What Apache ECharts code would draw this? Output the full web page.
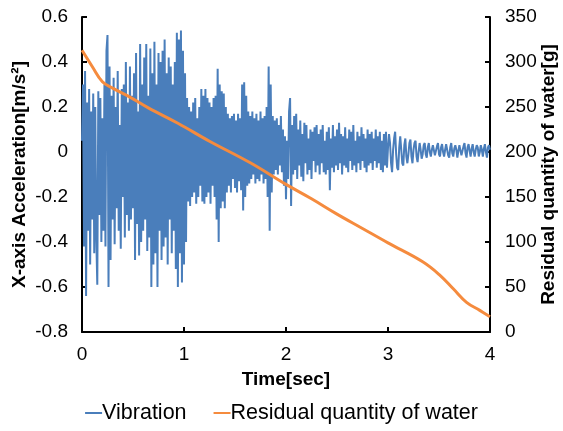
<!DOCTYPE html>
<html>
<head>
<meta charset="utf-8">
<script src="https://cdn.jsdelivr.net/npm/echarts@6/dist/echarts.min.js"></script>
<style>
html,body{margin:0;padding:0;background:#fff;}
#chart{width:563px;height:431px;}
</style>
</head>
<body>
<div id="chart"></div>
<script>
const vibrationStep = 0.01;
const vibrationValues = [
 0.05, 0.30, -0.42, 0.36, -0.64, 0.22, -0.35, 0.28, -0.50, 0.18,
 -0.30, 0.26, -0.45, 0.20, -0.38, -0.59, 0.27, -0.28, 0.24, -0.40,
 0.15, -0.35, 0.30, -0.42, 0.45, 0.52, -0.60, 0.38, -0.48, 0.25,
 -0.30, 0.33, -0.41, 0.20, -0.25, 0.36, -0.35, 0.12, -0.43, 0.28,
 -0.20, 0.30, -0.38, 0.40, -0.28, 0.22, -0.35, 0.38, -0.30, 0.25,
 -0.25, 0.35, -0.48, 0.44, -0.32, 0.18, -0.46, 0.48, -0.40, 0.30,
 -0.35, 0.42, -0.30, 0.48, -0.44, 0.25, -0.38, 0.46, -0.60, 0.35,
 -0.50, 0.49, -0.45, 0.30, -0.60, 0.44, -0.35, 0.40, -0.48, 0.45,
 -0.42, 0.50, -0.38, 0.35, -0.50, 0.42, -0.30, 0.38, -0.45, 0.30,
 -0.35, 0.40, -0.52, 0.53, -0.60, 0.50, -0.45, 0.54, -0.58, 0.45,
 -0.50, 0.35, -0.40, 0.24, -0.22, 0.20, -0.24, 0.18, -0.20, 0.22,
 -0.18, 0.24, -0.23, 0.15, -0.20, 0.20, -0.15, 0.28, -0.22, 0.25,
 -0.23, 0.28, -0.20, 0.24, -0.18, 0.22, -0.23, 0.20, -0.15, 0.24,
 -0.20, 0.25, -0.30, 0.37, -0.40, 0.30, -0.25, 0.27, -0.22, 0.26,
 -0.25, 0.20, -0.18, 0.17, -0.15, 0.15, -0.18, 0.16, -0.12, 0.17,
 -0.16, 0.14, -0.18, 0.17, -0.13, 0.15, -0.17, 0.30, -0.26, 0.31,
 -0.20, 0.25, -0.15, 0.18, -0.14, 0.16, -0.12, 0.18, -0.10, 0.15,
 -0.14, 0.17, -0.12, 0.14, -0.13, 0.18, -0.10, 0.15, -0.14, 0.16,
 -0.12, 0.20, -0.20, 0.38, -0.35, 0.30, -0.18, 0.16, -0.10, 0.14,
 -0.08, 0.15, -0.10, 0.12, -0.06, 0.16, -0.09, 0.10, -0.15, 0.07,
 -0.21, 0.05, -0.12, 0.18, 0.24, -0.24, 0.12, -0.10, 0.16, -0.08,
 0.17, -0.12, 0.10, -0.06, 0.14, -0.11, 0.08, -0.13, 0.13, -0.05,
 0.12, -0.10, 0.06, -0.08, 0.10, -0.12, 0.09, -0.04, 0.11, -0.09,
 0.12, -0.06, 0.08, -0.10, 0.10, -0.05, 0.12, -0.09, 0.05, -0.10,
 0.09, -0.08, 0.11, -0.17, 0.06, -0.07, 0.12, -0.09, 0.07, -0.06,
 0.10, -0.08, 0.13, -0.05, 0.08, -0.10, 0.07, -0.06, 0.11, -0.07,
 0.06, -0.09, 0.10, -0.04, 0.09, -0.08, 0.12, -0.06, 0.05, -0.09,
 0.09, -0.05, 0.07, -0.08, 0.11, -0.04, 0.08, -0.07, 0.06, -0.09,
 0.10, -0.06, 0.08, -0.05, 0.09, -0.08, 0.06, -0.04, 0.10, -0.07,
 0.07, -0.05, 0.09, -0.08, 0.05, -0.09, 0.08, -0.06, 0.09, -0.07,
 0.02, 0.08, 0.04, -0.05, -0.09, 0.01, 0.06, 0.09, -0.01, -0.07,
 -0.08, 0.02, 0.07, 0.01, -0.05, -0.06, 0.03, 0.06, -0.02, -0.05,
 -0.01, 0.04, 0.055, -0.02, -0.05, 0.01, 0.04, 0.05, -0.02, -0.045,
 0.00, 0.04, 0.01, -0.03, -0.01, 0.03, 0.04, -0.01, -0.025, 0.02,
 0.04, 0.00, -0.02, 0.01, 0.03, 0.035, -0.015, -0.02, 0.025, 0.04,
 -0.01, -0.02, 0.02, 0.035, 0.00, -0.02, 0.01, 0.035, 0.03, -0.015,
 -0.025, 0.02, 0.04, -0.005, -0.02, 0.015, 0.03, 0.01, -0.025, 0.005,
 0.03, 0.035, -0.015, -0.01, 0.025, 0.04, -0.005, -0.025, 0.02, 0.035,
 0.005, -0.02, 0.015, 0.035, 0.0, -0.02, 0.01, 0.03, 0.02, -0.02,
 0.0, 0.03, 0.01, -0.02, 0.015, 0.035, 0.0, -0.025, 0.02, 0.03, 0.01
];

// Residual quantity of water [g]
const waterTime  = [0, 0.1, 0.2, 0.3, 0.47, 0.65, 0.94, 1.25, 1.65, 2.0, 2.25, 2.5, 2.75, 3.0, 3.34, 3.51, 3.64, 3.77, 3.9, 4.0];
const waterValue = [313, 295, 278, 271, 261, 249, 232, 212, 188, 164, 148, 131, 115, 99, 78, 63, 48, 33, 24, 17];

const xTicks = {min: 0, max: 4, interval: 1};
const leftTicks = {min: -0.8, max: 0.6, interval: 0.2};
const rightTicks = {min: 0, max: 350, interval: 50};

const seriesNames = ['Vibration', 'Residual quantity of water'];

const vibData = vibrationValues.map((v, i) => [+(i * vibrationStep).toFixed(2), v]);
const waterData = waterTime.map((t, i) => [t, waterValue[i]]);

const FONT = 'Liberation Sans, Arial, sans-serif';
const axisCommon = {
  axisLine: {show: true, onZero: false, lineStyle: {color: '#000', width: 2}},
  axisTick: {show: true, inside: true, length: 5, lineStyle: {color: '#000', width: 2}},
  splitLine: {show: false},
  nameMoveOverlap: false,
  axisLabel: {color: '#000', fontSize: 19, fontFamily: FONT},
  nameTextStyle: {color: '#000', fontSize: 19, fontWeight: 'bold', fontFamily: FONT}
};

const chart = echarts.init(document.getElementById('chart'), null, {renderer: 'canvas'});
chart.setOption({
  animation: false,
  backgroundColor: '#fff',
  grid: {left: 82, right: 73, top: 17, bottom: 99, containLabel: false, outerBoundsMode: 'none'},
  legend: {
    data: seriesNames.map(n => ({name: n, icon: 'rect'})),
    bottom: 2, left: 'center',
    itemWidth: 17, itemHeight: 2, itemGap: 27,
    textStyle: {color: '#000', fontSize: 21.5, fontFamily: FONT, padding: [0, 0, 0, -5]}
  },
  xAxis: Object.assign({}, axisCommon, {
    type: 'value', min: xTicks.min, max: xTicks.max, interval: xTicks.interval,
    name: 'Time[sec]', nameLocation: 'middle', nameGap: 38,
    axisLabel: Object.assign({}, axisCommon.axisLabel, {margin: 13})
  }),
  yAxis: [
    Object.assign({}, axisCommon, {
      type: 'value', position: 'left', min: leftTicks.min, max: leftTicks.max, interval: leftTicks.interval,
      name: 'X-axis Acceleration[m/s²]', nameLocation: 'middle', nameRotate: 90, nameGap: 53,
      axisLabel: Object.assign({}, axisCommon.axisLabel, {margin: 14})
    }),
    Object.assign({}, axisCommon, {
      type: 'value', position: 'right', min: rightTicks.min, max: rightTicks.max, interval: rightTicks.interval,
      name: 'Residual quantity of water[g]', nameLocation: 'middle', nameRotate: 90, nameGap: 49,
      axisLabel: Object.assign({}, axisCommon.axisLabel, {margin: 15})
    })
  ],
  series: [
    {
      name: seriesNames[0], type: 'line', yAxisIndex: 0, data: vibData,
      showSymbol: false, symbol: 'none', sampling: null,
      lineStyle: {color: '#4A7EBB', width: 2}, itemStyle: {color: '#4A7EBB'}, z: 2
    },
    {
      name: seriesNames[1], type: 'line', yAxisIndex: 1, data: waterData,
      showSymbol: false, symbol: 'none', smooth: 0.4,
      lineStyle: {color: '#F58B3E', width: 3}, itemStyle: {color: '#F58B3E'}, z: 3
    }
  ]
});
</script>
</body>
</html>
